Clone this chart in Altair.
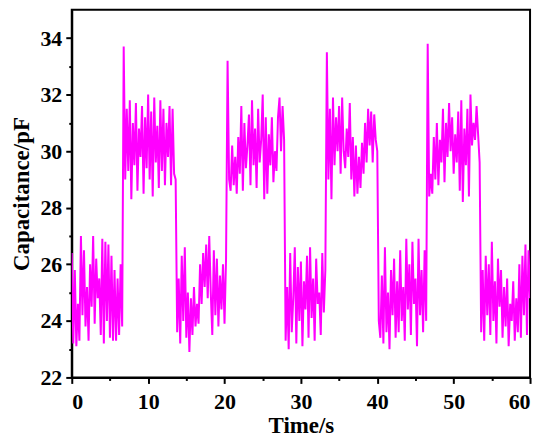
import altair as alt
import pandas as pd

FONT = "Liberation Serif"

# start time (s) of each segment; samples every 0.2 s
seg_starts = [0.0, 6.8, 13.8, 20.4, 28.0, 33.4, 40.2, 46.6, 53.6]
dt = 0.2

low1 = [26.4, 23.2, 25.8, 23.1, 24.6, 23.3, 27.0, 24.2, 26.5, 23.8,
        25.2, 23.3, 26.0, 24.5, 27.0, 23.9, 26.2, 24.8, 25.5, 23.5,
        26.9, 23.2, 26.8, 24.0, 26.7, 23.4, 26.3, 23.3, 25.8, 23.3,
        25.5, 23.5, 26.0, 23.8]
high1 = [33.7, 29.0, 31.5, 29.3, 31.8, 28.3, 31.0, 29.5, 31.7, 28.6,
         30.8, 29.8, 31.6, 28.5, 31.2, 29.4, 32.0, 29.0, 31.4, 28.4,
         31.9, 29.6, 30.9, 28.7, 31.8, 29.3, 31.5, 28.8, 31.0, 29.8,
         31.6, 28.8, 31.5, 29.2, 29.0]
low2 = [23.6, 25.5, 23.2, 26.3, 24.0, 26.6, 23.4, 25.0, 22.9, 24.8,
        23.5, 25.2, 23.8, 24.6, 23.9, 26.0, 24.6, 26.4, 25.2, 26.7,
        24.8, 27.0, 25.0, 23.5, 26.5, 24.2, 26.2, 23.8, 25.6, 24.4,
        26.0, 23.9, 26.2]
high2 = [33.2, 29.0, 28.6, 30.2, 28.8, 29.8, 28.5, 30.5, 29.2, 31.6,
         28.6, 31.0, 29.4, 30.2, 31.3, 28.8, 31.8, 29.5, 30.8, 28.7,
         31.5, 29.6, 30.4, 32.0, 28.3, 31.2, 28.5, 30.6, 29.5, 31.2,
         28.9, 30.0, 29.3, 31.2, 31.9, 30.0, 31.6, 30.4]
low3 = [23.3, 25.2, 23.0, 26.4, 23.6, 24.8, 26.6, 23.2, 25.9, 24.0,
        26.1, 23.1, 25.4, 24.4, 26.3, 23.4, 26.6, 24.1, 25.5, 23.3,
        26.2, 24.6, 25.0, 23.5, 26.4, 24.3, 25.8]
high3 = [33.5, 29.0, 31.5, 28.3, 31.9, 29.5, 31.2, 30.0, 31.6, 29.2,
         31.9, 30.0, 29.4, 30.8, 29.8, 31.7, 29.0, 30.5, 28.4, 30.2,
         28.5, 29.8, 28.7, 30.3, 29.2, 31.0, 29.6, 31.5, 30.2, 31.4,
         29.6, 31.3, 30.4, 30.0]
low4 = [24.0, 23.4, 25.6, 23.2, 26.6, 23.6, 25.0, 23.0, 25.8, 24.2,
        26.2, 23.4, 25.4, 23.6, 26.5, 24.0, 25.2, 23.3, 26.9, 24.4,
        26.0, 23.5, 26.8, 24.6, 25.5, 23.1, 26.9, 24.2, 25.8, 23.6,
        26.5, 24.0]
high4 = [33.8, 28.4, 29.2, 28.5, 30.5, 29.0, 31.0, 28.8, 30.4, 29.6,
         31.5, 28.9, 31.0, 29.8, 31.7, 30.0, 31.2, 29.2, 30.6, 29.6,
         31.4, 28.6, 31.8, 28.2, 30.8, 29.5, 31.5, 28.4, 32.0, 30.2,
         31.0, 30.4, 31.6, 30.6, 29.6]
low5 = [23.6, 25.8, 23.3, 26.3, 24.2, 26.0, 23.5, 26.8, 24.0, 25.4,
        23.2, 26.2, 24.5, 25.8, 23.4, 25.2, 23.8, 25.5, 23.1, 24.6,
        24.0, 25.4, 23.3, 24.8, 23.6, 26.0, 23.4, 26.3, 24.2, 26.7,
        23.5, 26.5, 24.8]

segments = [low1, high1, low2, high2, low3, high3, low4, high4, low5]

x_major = [0, 10, 20, 30, 40, 50, 60]
x_minor = [5, 15, 25, 35, 45, 55]
y_major = [22, 24, 26, 28, 30, 32, 34]
y_minor = [23, 25, 27, 29, 31, 33]

times, caps = [], []
for start, vals in zip(seg_starts, segments):
    for i, v in enumerate(vals):
        times.append(round(start + dt * i, 2))
        caps.append(v)
df = pd.DataFrame({"t": times, "c": caps})

W, H = 460, 369

x_scale = alt.Scale(domain=[0, 60], nice=False, zero=False)
y_scale = alt.Scale(domain=[22, 35], nice=False, zero=False)

line = alt.Chart(df).mark_line(color="#FF00FF", strokeWidth=2, clip=True).encode(
    x=alt.X("t:Q", scale=x_scale,
            axis=alt.Axis(orient="bottom", values=x_major, title="Time/s", format="d",
                          labelFontSize=22, titleFontSize=23, tickSize=6,
                          labelPadding=8, titleX=W / 2, titleY=55.5,
                          titleBaseline="alphabetic")),
    y=alt.Y("c:Q", scale=y_scale,
            axis=alt.Axis(orient="left", values=y_major, title="Capacitance/pF", format="d",
                          labelFontSize=22, titleFontSize=23, tickSize=6,
                          labelPadding=4, titleX=-43.5, titleY=H / 2,
                          titleBaseline="alphabetic")),
)

minor = alt.Chart(df).mark_line(opacity=0).encode(
    x=alt.X("t:Q", scale=x_scale,
            axis=alt.Axis(orient="bottom", values=x_minor, labels=False, title="",
                          domain=False, tickSize=3)),
    y=alt.Y("c:Q", scale=y_scale,
            axis=alt.Axis(orient="left", values=y_minor, labels=False, title="",
                          domain=False, tickSize=3)),
)

chart = alt.layer(line, minor).resolve_axis(x="independent", y="independent").properties(
    width=W, height=H,
    autosize=alt.AutoSizeParams(type="none"),
    padding={"left": 64, "top": 1, "right": 12, "bottom": 60},
).configure_view(stroke="black", strokeWidth=2).configure_axis(
    domainColor="black", domainWidth=2, tickColor="black", tickWidth=2, grid=False,
    labelFont=FONT, labelFontWeight="bold", labelColor="black",
    titleFont=FONT, titleFontWeight="bold", titleColor="black",
)

chart.save("out.html", embed_options={"renderer": "svg", "actions": False})
